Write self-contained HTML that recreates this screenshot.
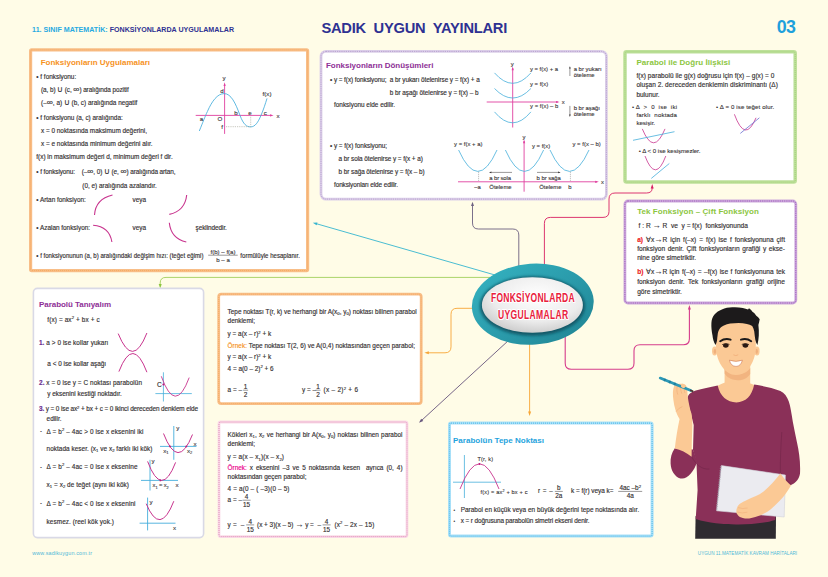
<!DOCTYPE html>
<html lang="tr"><head><meta charset="utf-8"><title>Fonksiyonlarda Uygulamalar</title>
<style>
html,body{margin:0;padding:0;background:#fffce7}
#page{position:relative;width:828px;height:577px;overflow:hidden;background:#fffce7}
svg{display:block}
text{white-space:pre}

</style></head>
<body>
<div id="page">
<svg width="828" height="577" viewBox="0 0 828 577">
<g id="shapes-back">
<defs>
<linearGradient id="gT" x1="0" y1="0" x2="1" y2="1"><stop offset="0" stop-color="#35b4c2"/><stop offset=".55" stop-color="#2a9aaa"/><stop offset="1" stop-color="#1f8291"/></linearGradient>
<radialGradient id="gI" cx=".55" cy=".35" r=".8"><stop offset="0" stop-color="#ffffff"/><stop offset=".55" stop-color="#ececec"/><stop offset="1" stop-color="#b9b9b9"/></radialGradient>
<filter id="bl" x="-20%" y="-20%" width="140%" height="140%"><feGaussianBlur stdDeviation="1.6"/></filter>
</defs>
<path d="M472.5 205.5V223Q472.5 229 478.5 229H512.8Q518.8 229 518.8 235V266" fill="none" stroke="#6c6080" stroke-width="0.9"/>
<path d="M0 0L-4.4 -1.5V1.5z" fill="#6c6080" transform="translate(472.5 201.7) rotate(270)"/>
<path d="M544.4 266V223.4Q544.4 217.4 550.4 217.4H603Q609 217.4 609 211.4V199Q609 193 615 193H646.5Q652.2 193 652.2 188" fill="none" stroke="#d81f63" stroke-width="0.9"/>
<path d="M0 0L-4.4 -1.5V1.5z" fill="#d81f63" transform="translate(652.2 184) rotate(270)"/>
<path d="M495 275L316 223.6" fill="none" stroke="#35b5cf" stroke-width="0.9"/>
<path d="M0 0L-4.4 -1.5V1.5z" fill="#35b5cf" transform="translate(312.8 222.7) rotate(196.3)"/>
<path d="M490 277.4H166Q160.2 277.4 160.2 283V285" fill="none" stroke="#8dc63f" stroke-width="0.75"/>
<path d="M0 0L-4.4 -1.5V1.5z" fill="#8dc63f" transform="translate(160.2 288.4) rotate(90)"/>
<path d="M476 308.3H457Q451 308.3 451 314.3V346.8Q451 352.8 445 352.8H428" fill="none" stroke="#f7a535" stroke-width="0.9"/>
<path d="M0 0L-4.4 -1.5V1.5z" fill="#f7a535" transform="translate(424.4 352.8) rotate(180)"/>
<path d="M509 340L421.5 420.5" fill="none" stroke="#66557c" stroke-width="0.9"/>
<path d="M0 0L-4.4 -1.5V1.5z" fill="#66557c" transform="translate(419 422.8) rotate(137.4)"/>
<path d="M529.6 342V412" fill="none" stroke="#f7a535" stroke-width="0.9"/>
<path d="M0 0L-4.4 -1.5V1.5z" fill="#f7a535" transform="translate(529.6 416) rotate(90)"/>
<path d="M565.2 336V363.3Q565.2 369.3 571.2 369.3H628Q634 369.3 634 363.3V350.8Q634 344.8 640 344.8H683.4Q689.4 344.8 689.4 338.8V309" fill="none" stroke="#d63c8c" stroke-width="1.1"/>
<path d="M0 0L-4.4 -1.5V1.5z" fill="#d63c8c" transform="translate(689.4 305) rotate(270)"/>
<rect x="30.6" y="49.9" width="277.0" height="220.7" rx="1" fill="#fff" stroke="#f8be88" stroke-width="3.2"/>
<rect x="30.6" y="49.9" width="277.0" height="220.7" rx="1" fill="none" stroke="#f5a85e" stroke-width="1" stroke-dasharray="1 1"/>
<rect x="321.0" y="51.4" width="285.4" height="147.7" rx="5" fill="#fff" stroke="#dccfe9" stroke-width="2.8"/>
<rect x="321.0" y="51.4" width="285.4" height="147.7" rx="5" fill="none" stroke="#b49dcc" stroke-width="0.9" stroke-dasharray="1.2 1"/>
<rect x="625.0" y="51.8" width="170.2" height="130.3" rx="1.5" fill="#fff" stroke="#bde09a" stroke-width="3.5"/>
<rect x="625.0" y="51.8" width="170.2" height="130.3" rx="1.5" fill="none" stroke="#a4d078" stroke-width="1" stroke-dasharray="1 1"/>
<rect x="624.9" y="201.0" width="170.9" height="102.0" rx="3" fill="#fff" stroke="#cdaadc" stroke-width="2.8"/>
<rect x="624.9" y="201.0" width="170.9" height="102.0" rx="3" fill="none" stroke="#a05fbb" stroke-width="1" stroke-dasharray="1.2 1"/>
<rect x="33.4" y="288.4" width="170.2" height="249.2" rx="4" fill="#fff" stroke="#d9d9e6" stroke-width="1.6"/>
<rect x="218.7" y="294.2" width="202.5" height="109.4" rx="2.5" fill="#fff" stroke="#f8be88" stroke-width="2.8"/>
<rect x="218.7" y="294.2" width="202.5" height="109.4" rx="2.5" fill="none" stroke="#f5a85e" stroke-width="0.9" stroke-dasharray="1 1"/>
<rect x="219.0" y="422.0" width="188.0" height="114.6" rx="1.5" fill="#fff" stroke="#fadbe8" stroke-width="2.8"/>
<rect x="219.0" y="422.0" width="188.0" height="114.6" rx="1.5" fill="none" stroke="#d878ab" stroke-width="0.8" stroke-dasharray="1 1"/>
<rect x="449.5" y="423.1" width="202.6" height="113.0" rx="1.5" fill="#fff" stroke="#a9e0f8" stroke-width="3"/>
<rect x="449.5" y="423.1" width="202.6" height="113.0" rx="1.5" fill="none" stroke="#5dbfe9" stroke-width="1.1" stroke-dasharray="1 1"/>
<ellipse cx="532.8" cy="304.2" rx="61" ry="40.5" fill="url(#gT)" transform="rotate(-4 532.8 304.2)"/>
<ellipse cx="532.4" cy="306" rx="52.5" ry="29.8" fill="#0e4a58" opacity=".8" filter="url(#bl)"/>
<ellipse cx="532.4" cy="305" rx="50.5" ry="27.8" fill="url(#gI)"/>
</g>
<g id="texts" font-family="'Liberation Sans', sans-serif" font-size="6.4" color="#343031" fill="currentColor" stroke="currentColor" stroke-width="0.15" xml:space="preserve">
<text x="32.1" y="32.1" font-size="7.1" color="#2e3192" font-weight="bold" stroke-width="0" textLength="201.9"><tspan color="#27aae1">11. SINIF MATEMATİK:</tspan> FONKSİYONLARDA UYGULAMALAR</text>
<text x="321.4" y="33.2" font-size="14.7" color="#2e3192" font-weight="bold" stroke-width="0" textLength="185.9">SADIK  UYGUN  YAYINLARI</text>
<text x="776.7" y="32.9" font-size="17.8" color="#1ea0dc" font-weight="bold" stroke-width="0" textLength="19.2">03</text>
<text x="32.2" y="554.7" font-size="5.4" color="#4fb8d8" textLength="59.8" stroke-width="0">www.sadikuygun.com.tr</text>
<text x="697.8" y="555.3" font-size="4.6" color="#4fb8d8" textLength="99.3" stroke-width="0">UYGUN 11.MATEMATİK KAVRAM HARİTALARI</text>
<text x="40.7" y="64.8" font-size="8" color="#f6921e" font-weight="bold" stroke-width="0" >Fonksiyonların Uygulamaları</text>
<text x="36.3" y="79.0" >• f fonksiyonu:</text>
<text x="41.0" y="92.0" textLength="87.7">(a, b) <tspan font-size="7.6">∪</tspan> (c, <tspan font-size="8.6">∞</tspan>) aralığında pozitif</text>
<text x="41.0" y="104.7" >(–<tspan font-size="8.6">∞</tspan>, a) <tspan font-size="7.6">∪</tspan> (b, c) aralığında negatif</text>
<text x="36.3" y="119.6" >• f fonksiyonu (a, c) aralığında:</text>
<text x="41.0" y="133.0" >x = 0 noktasında maksimum değerini,</text>
<text x="41.0" y="146.4" textLength="111.6">x = e noktasında minimum değerini alır.</text>
<text x="36.3" y="158.9" >f(x) in maksimum değeri d, minimum değeri f dir.</text>
<text x="36.3" y="174.1" textLength="139.2">• f fonksiyonu:    (–<tspan font-size="8.6">∞</tspan>, 0) <tspan font-size="7.6">∪</tspan> (e, <tspan font-size="8.6">∞</tspan>) aralığında artan,</text>
<text x="82.3" y="187.5" >(0, e) aralığında azalandır.</text>
<text x="36.3" y="202.0" >• Artan fonksiyon:</text>
<text x="132.6" y="202.4" >veya</text>
<text x="36.3" y="229.6" >• Azalan fonksiyon:</text>
<text x="132.6" y="229.9" >veya</text>
<text x="195.6" y="229.8" textLength="31.3">şeklindedir.</text>
<text transform="translate(36.3 258.2) scale(0.95 1)" textLength="176.0">• f fonksiyonunun (a, b) aralığındaki değişim hızı: (teğet eğimi)</text>
<text x="223.0" y="254.2" font-size="6.1" stroke-width=".1" text-anchor="middle" >f(b) – f(a)</text>
<text x="223.0" y="261.7" font-size="6.1" stroke-width=".1" text-anchor="middle" >b – a</text>
<text transform="translate(240.3 258.2) scale(0.95 1)" textLength="62.8">formülüyle hesaplanır.</text>
<text x="326.0" y="67.8" font-size="8" color="#8e2f96" font-weight="bold" stroke-width="0" textLength="107.4">Fonksiyonların Dönüşümleri</text>
<text x="330.0" y="81.6" textLength="149.7">• y = f(x) fonksiyonu;  a br yukarı ötelenirse y = f(x) + a</text>
<text x="389.7" y="94.8" textLength="88.8">b br aşağı ötelenirse y = f(x) – b</text>
<text x="334.0" y="107.4" >fonksiyonu elde edilir.</text>
<text x="330.0" y="148.4" textLength="57.1">• y = f(x) fonksiyonu;</text>
<text x="338.6" y="160.9" textLength="84.2">a br sola ötelenirse y = f(x + a)</text>
<text x="338.6" y="174.0" textLength="86.0">b br sağa ötelenirse y = f(x – b)</text>
<text x="334.0" y="187.1" textLength="64.0">fonksiyonları elde edilir.</text>
<text x="510.8" y="65.7" font-size="5.9" stroke-width=".1" >y</text>
<text x="561.8" y="104.2" font-size="5.9" stroke-width=".1" >x</text>
<text x="530.0" y="71.2" font-size="5.9" stroke-width=".1" textLength="28.0">y = f(x) + a</text>
<text x="530.0" y="85.5" font-size="5.9" stroke-width=".1" >y = f(x)</text>
<text x="530.0" y="108.1" font-size="5.9" stroke-width=".1" textLength="28.3">y = f(x) – b</text>
<text x="573.7" y="71.2" font-size="5.9" stroke-width=".1" >a br yukarı</text>
<text x="573.7" y="77.4" font-size="5.9" stroke-width=".1" >öteleme</text>
<text x="573.7" y="109.9" font-size="5.9" stroke-width=".1" >b br aşağı</text>
<text x="573.7" y="115.6" font-size="5.9" stroke-width=".1" >öteleme</text>
<text x="522.4" y="139.2" font-size="5.9" stroke-width=".1" >y</text>
<text x="601.0" y="184.0" font-size="5.9" stroke-width=".1" >x</text>
<text x="454.0" y="146.2" font-size="5.9" stroke-width=".1" textLength="28.5">y = f(x + a)</text>
<text x="532.0" y="147.6" font-size="5.9" stroke-width=".1" >y = f(x)</text>
<text x="572.4" y="146.2" font-size="5.9" stroke-width=".1" textLength="28.4">y = f(x – b)</text>
<text x="489.3" y="179.6" font-size="5.9" stroke-width=".1" textLength="21.7">a br sola</text>
<text x="536.6" y="179.6" font-size="5.9" stroke-width=".1" textLength="24.2">b br sağa</text>
<text x="474.2" y="189.0" font-size="5.9" stroke-width=".1" >–a</text>
<text x="489.3" y="189.0" font-size="5.9" stroke-width=".1" >Öteleme</text>
<text x="539.2" y="189.0" font-size="5.9" stroke-width=".1" >Öteleme</text>
<text x="568.3" y="189.0" font-size="5.9" stroke-width=".1" >b</text>
<text x="636.4" y="64.5" font-size="8" color="#8cc63f" font-weight="bold" stroke-width="0" textLength="93.9">Parabol ile Doğru İlişkisi</text>
<text x="636.4" y="77.6" font-size="6.5" textLength="137.9">f(x) parabolü ile g(x) doğrusu için f(x) – g(x) = 0</text>
<text x="636.4" y="87.3" font-size="6.5" textLength="141.4">oluşan 2. dereceden denklemin diskriminantı (Δ)</text>
<text x="636.4" y="96.6" font-size="6.5" >bulunur.</text>
<text x="631.9" y="109.0" font-size="6.1" stroke-width=".1" textLength="45.1">• Δ  >  0  ise  iki</text>
<text x="636.4" y="116.6" font-size="6.1" stroke-width=".1" textLength="40.6">farklı  noktada</text>
<text x="636.4" y="124.6" font-size="6.1" stroke-width=".1" >kesişir.</text>
<text x="716.0" y="109.0" font-size="6.1" stroke-width=".1" textLength="58.3">• Δ = 0 ise teğet olur.</text>
<text x="638.8" y="153.0" font-size="6.1" stroke-width=".1" textLength="61.7">• Δ < 0 ise kesişmezler.</text>
<text x="637.2" y="214.3" font-size="8" color="#8cc63f" font-weight="bold" stroke-width="0" textLength="121.7">Tek Fonksiyon – Çift Fonksiyon</text>
<text x="638.6" y="228.2" font-size="6.6" textLength="109.3">f : R <tspan font-size="8.2">→</tspan> R  ve  y = f(x)  fonksiyonunda</text>
<text x="637.2" y="242.0" font-size="6.6" word-spacing="1.13"><tspan color="#ed1c24"><tspan font-weight="bold">a)</tspan></tspan> ∀x<tspan font-size="8.2">→</tspan>R için f(–x) = f(x) ise f fonksiyonuna çift</text>
<text x="637.2" y="251.1" font-size="6.6" word-spacing="0.81">fonksiyon denir. Çift fonksiyonların grafiği y ekse-</text>
<text x="637.2" y="260.4" font-size="6.6" >nine göre simetriktir.</text>
<text x="637.2" y="274.4" font-size="6.6" word-spacing="0.64"><tspan color="#ed1c24"><tspan font-weight="bold">b)</tspan></tspan> ∀x<tspan font-size="8.2">→</tspan>R için f(–x) = –f(x) ise f fonksiyonuna tek</text>
<text x="637.2" y="283.8" font-size="6.6" word-spacing="1.65">fonksiyon denir. Tek fonksiyonların grafiği orijine</text>
<text x="637.2" y="293.7" font-size="6.6" >göre simetriktir.</text>
<text x="39.0" y="307.3" font-size="8" color="#8e2f96" font-weight="bold" stroke-width="0" textLength="72.0">Parabolü Tanıyalım</text>
<text x="47.3" y="321.6" textLength="52.3">f(x) = ax<tspan dy="-2.88" font-size="4.22">2</tspan><tspan dy="2.88"> </tspan>+ bx + c</text>
<text x="39.0" y="344.7" textLength="69.4"><tspan color="#6a2c8f"><tspan font-weight="bold">1.</tspan></tspan> a > 0 ise kollar yukarı</text>
<text x="47.3" y="365.9" >a &lt; 0 ise kollar aşağı</text>
<text x="39.0" y="385.4" textLength="103.0"><tspan color="#6a2c8f"><tspan font-weight="bold">2.</tspan></tspan> x = 0 ise y = C noktası parabolün</text>
<text x="47.3" y="396.4" >y eksenini kestiği noktadır.</text>
<text x="39.0" y="411.4" textLength="159.0"><tspan color="#6a2c8f"><tspan font-weight="bold">3.</tspan></tspan> y = 0 ise ax<tspan dy="-2.88" font-size="4.22">2</tspan><tspan dy="2.88"> </tspan>+ bx + c = 0 ikinci dereceden denklem elde</text>
<text x="46.6" y="420.6" >edilir.</text>
<text x="40.2" y="433.1" font-size="4.4" stroke-width=".1" >•</text>
<text x="46.6" y="433.7" textLength="96.9">Δ = b<tspan dy="-2.88" font-size="4.22">2</tspan><tspan dy="2.88"> </tspan>– 4ac > 0 ise x eksenini iki</text>
<text x="46.6" y="450.9" textLength="105.9">noktada keser. (x<tspan dy="1.41" font-size="4.22">1</tspan><tspan dy="-1.41"> </tspan>ve x<tspan dy="1.41" font-size="4.22">2</tspan><tspan dy="-1.41"> </tspan>farklı iki kök)</text>
<text x="40.2" y="468.7" font-size="4.4" stroke-width=".1" >•</text>
<text x="46.6" y="469.3" textLength="90.9">Δ = b<tspan dy="-2.88" font-size="4.22">2</tspan><tspan dy="2.88"> </tspan>– 4ac = 0 ise x eksenine</text>
<text x="46.6" y="486.8" textLength="82.3">x<tspan dy="1.41" font-size="4.22">1</tspan><tspan dy="-1.41"> </tspan>= x<tspan dy="1.41" font-size="4.22">2</tspan><tspan dy="-1.41"> </tspan>de teğet (aynı iki kök)</text>
<text x="40.2" y="505.2" font-size="4.4" stroke-width=".1" >•</text>
<text x="46.6" y="505.8" textLength="88.9">Δ = b<tspan dy="-2.88" font-size="4.22">2</tspan><tspan dy="2.88"> </tspan>– 4ac &lt; 0 ise x eksenini</text>
<text x="46.6" y="523.6" textLength="67.4">kesmez. (reel kök yok.)</text>
<text x="157.0" y="387.2" font-size="6.6" >C</text>
<text x="176.2" y="429.5" font-size="6.2" stroke-width=".1" >y</text>
<text x="193.4" y="445.5" font-size="6.2" stroke-width=".1" >x</text>
<text x="163.2" y="452.5" font-size="6.2" stroke-width=".1" >x<tspan dy="1.36" font-size="4.09">1</tspan></text>
<text x="187.0" y="452.5" font-size="6.2" stroke-width=".1" >x<tspan dy="1.36" font-size="4.09">2</tspan></text>
<text x="151.6" y="463.1" font-size="6.2" stroke-width=".1" >y</text>
<text x="175.4" y="486.7" font-size="6.2" stroke-width=".1" >x</text>
<text x="152.6" y="487.4" font-size="5.8" stroke-width=".1" textLength="16.0">x<tspan dy="1.28" font-size="3.83">1</tspan><tspan dy="-1.28"> </tspan>= x<tspan dy="1.28" font-size="3.83">2</tspan></text>
<text x="149.4" y="503.5" font-size="6.2" stroke-width=".1" >y</text>
<text x="173.0" y="529.9" font-size="6.2" stroke-width=".1" >x</text>
<text x="227.6" y="313.8" word-spacing="0.01">Tepe noktası T(r, k) ve herhangi bir A(x<tspan dy="1.41" font-size="4.22">0</tspan><tspan dy="-1.41">,</tspan> y<tspan dy="1.41" font-size="4.22">0</tspan><tspan dy="-1.41">)</tspan> noktası bilinen parabol</text>
<text x="227.6" y="323.2" >denklemi;</text>
<text x="227.6" y="336.4" >y = a(x – r)<tspan dy="-2.88" font-size="4.22">2</tspan><tspan dy="2.88"> </tspan>+ k</text>
<text x="227.6" y="348.4" textLength="187.4"><tspan color="#f6921e">Örnek:</tspan> Tepe noktası T(2, 6) ve A(0,4) noktasından geçen parabol;</text>
<text x="227.6" y="359.4" >y = a(x – r)<tspan dy="-2.88" font-size="4.22">2</tspan><tspan dy="2.88"> </tspan>+ k</text>
<text x="227.6" y="371.3" >4 = a(0 – 2)<tspan dy="-2.88" font-size="4.22">2</tspan><tspan dy="2.88"> </tspan>+ 6</text>
<text x="227.6" y="392.4" >a = –</text>
<text x="245.6" y="389.2" text-anchor="middle" >1</text>
<text x="245.6" y="396.9" text-anchor="middle" >2</text>
<text x="302.0" y="392.4" >y = –</text>
<text x="318.0" y="389.2" text-anchor="middle" >1</text>
<text x="318.0" y="396.9" text-anchor="middle" >2</text>
<text x="323.5" y="392.4" textLength="34.5">(x – 2)<tspan dy="-2.88" font-size="4.22">2</tspan><tspan dy="2.88"> </tspan>+ 6</text>
<text x="227.6" y="436.9" word-spacing="0.45">Kökleri x<tspan dy="1.41" font-size="4.22">1</tspan><tspan dy="-1.41">,</tspan> x<tspan dy="1.41" font-size="4.22">2</tspan><tspan dy="-1.41"> </tspan>ve herhangi bir A(x<tspan dy="1.41" font-size="4.22">0</tspan><tspan dy="-1.41">,</tspan> y<tspan dy="1.41" font-size="4.22">0</tspan><tspan dy="-1.41">)</tspan> noktası bilinen parabol</text>
<text x="227.6" y="445.6" >denklemi;</text>
<text x="227.6" y="459.4" textLength="56.4">y = a(x – x<tspan dy="1.41" font-size="4.22">1</tspan><tspan dy="-1.41">)</tspan>(x – x<tspan dy="1.41" font-size="4.22">2</tspan><tspan dy="-1.41">)</tspan></text>
<text x="227.6" y="470.4" word-spacing="1.21"><tspan color="#ec008c">Örnek:</tspan> x eksenini –3 ve 5 noktasında kesen  ayrıca (0, 4)</text>
<text x="227.6" y="479.3" >noktasından geçen parabol;</text>
<text x="227.6" y="491.4" textLength="61.9">4 = a(0 – ( –3)(0 – 5)</text>
<text x="227.6" y="502.0" >a = –</text>
<text x="246.6" y="499.2" text-anchor="middle" >4</text>
<text x="246.6" y="506.9" text-anchor="middle" >15</text>
<text x="227.6" y="527.0" textLength="16.8">y =  –</text>
<text x="250.2" y="523.9" text-anchor="middle" >4</text>
<text x="250.2" y="531.6" text-anchor="middle" >15</text>
<text x="257.0" y="527.0" >(x + 3)(x – 5) <tspan font-size="8.2">→</tspan> y =  –</text>
<text x="326.6" y="523.9" text-anchor="middle" >4</text>
<text x="326.6" y="531.6" text-anchor="middle" >15</text>
<text x="334.4" y="527.0" textLength="39.9">(x<tspan dy="-2.88" font-size="4.22">2</tspan><tspan dy="2.88"> </tspan>– 2x – 15)</text>
<text x="453.0" y="442.7" font-size="8" color="#1fa3dd" font-weight="bold" stroke-width="0" textLength="91.0">Parabolün Tepe Noktası</text>
<text x="477.5" y="461.2" font-size="5.6" stroke-width=".1" textLength="15.5">T(r, k)</text>
<text x="480.6" y="494.2" font-size="5.6" stroke-width=".1" textLength="46.9">f(x) = ax<tspan dy="-2.52" font-size="3.7">2</tspan><tspan dy="2.52"> </tspan>+ bx + c</text>
<text x="538.0" y="493.4" textLength="14.7">r = –</text>
<text x="558.8" y="490.4" text-anchor="middle" >b</text>
<text x="558.8" y="498.1" text-anchor="middle" >2a</text>
<text x="571.0" y="493.4" textLength="42.4">k = f(r) veya k=</text>
<text x="630.2" y="490.4" text-anchor="middle" >4ac –b<tspan dy="-2.88" font-size="4.22">2</tspan></text>
<text x="630.2" y="498.1" text-anchor="middle" >4a</text>
<text x="453.4" y="511.7" font-size="4.6" stroke-width=".1" >•</text>
<text x="460.7" y="512.2" textLength="178.5">Parabol en küçük veya en büyük değerini tepe noktasında alır.</text>
<text x="453.4" y="522.5" font-size="4.6" stroke-width=".1" >•</text>
<text x="460.7" y="523.0" textLength="128.8">x = r doğrusuna parabolün simetri ekseni denir.</text>
<text transform="translate(491.0 302.3) scale(0.66 1)" font-size="13" color="#e9203c" font-weight="bold" textLength="126.8" stroke="#fff" stroke-width="2.2" stroke-linejoin="round" paint-order="stroke">FONKSİYONLARDA</text>
<text transform="translate(497.9 319.1) scale(0.66 1)" font-size="13" color="#e9203c" font-weight="bold" textLength="106.7" stroke="#fff" stroke-width="2.2" stroke-linejoin="round" paint-order="stroke">UYGULAMALAR</text>
<text x="222.6" y="80.4" font-size="6.2" stroke-width=".1" >y</text>
<text x="276.6" y="117.7" font-size="6.2" stroke-width=".1" >x</text>
<text x="220.3" y="93.3" font-size="6.2" stroke-width=".1" >d</text>
<text x="262.6" y="95.9" font-size="6.2" stroke-width=".1" >f(x)</text>
<text x="234.2" y="114.6" font-size="6.2" stroke-width=".1" >b</text>
<text x="248.2" y="114.6" font-size="6.2" stroke-width=".1" >e</text>
<text x="263.8" y="114.6" font-size="6.2" stroke-width=".1" >c</text>
<text x="199.8" y="120.5" font-size="6.2" stroke-width=".1" >a</text>
<text x="217.6" y="120.9" font-size="6.2" stroke-width=".1" >O</text>
<text x="221.2" y="129.0" font-size="6.2" stroke-width=".1" >f</text>
</g>
<g id="shapes-front" fill="none">
<path d="M208.2 255.2h29.5" stroke="#343031" stroke-width=".5"/>
<path d="M512.7 127.5V68" stroke="#e0409f" stroke-width="0.9" />
<path d="M512.7 66.6l-1.1 3.6h2.2z" fill="#e0409f"/>
<path d="M486.7 102H558" stroke="#e0409f" stroke-width="0.9" />
<path d="M559.6 102l-3.6 -1.1v2.2z" fill="#e0409f"/>
<path d="M494.5 72.9Q512.7 93.7 530.9 72.9" stroke="#45aedb" stroke-width="0.8" />
<path d="M494.5 88.5Q512.7 107.5 530.9 88.5" stroke="#45aedb" stroke-width="0.8" />
<path d="M494.5 111.9Q512.7 133.7 530.9 111.9" stroke="#45aedb" stroke-width="0.8" />
<path d="M569.9 76V67.5" stroke="#343031" stroke-width="0.5" />
<path d="M569.9 66.2l-0.8 2.4h1.6z" fill="#343031"/>
<path d="M569.9 105.9V115.5" stroke="#343031" stroke-width="0.5" />
<path d="M569.9 117l-0.8 -2.4h1.6z" fill="#343031"/>
<path d="M524.1 191.7V141" stroke="#e0409f" stroke-width="0.9" />
<path d="M524.1 139.6l-1.1 3.6h2.2z" fill="#e0409f"/>
<path d="M458 181.8H597" stroke="#e0409f" stroke-width="0.9" />
<path d="M598.8 181.8l-3.6 -1.1v2.2z" fill="#e0409f"/>
<path d="M458.6 150.0Q477.8 192.8 497.0 150.0" stroke="#45aedb" stroke-width="0.8" />
<path d="M505.4 150.0Q524.5 192.8 543.6 150.0" stroke="#45aedb" stroke-width="0.8" />
<path d="M550.0 150.0Q569.5 192.8 589.0 150.0" stroke="#45aedb" stroke-width="0.8" />
<path d="M478.6 171.8V181.8M570.4 171.8V181.8" stroke="#666" stroke-width="0.5" stroke-dasharray="1 1"/>
<path d="M512 172.4H490.5" stroke="#343031" stroke-width="0.5" />
<path d="M489 172.4l2.4 -0.8v1.6z" fill="#343031"/>
<path d="M537 172.4H559" stroke="#343031" stroke-width="0.5" />
<path d="M560.6 172.4l-2.4 -0.8v1.6z" fill="#343031"/>
<path d="M642.3 128.9Q653.6 156.7 665.0 128.9" stroke="#c8348e" stroke-width="0.8" />
<path d="M633 140.3L674.5 131.7" stroke="#45aedb" stroke-width="0.8" />
<path d="M734.4 114.3Q745.2 143.9 756.0 117.8" stroke="#c8348e" stroke-width="0.8" />
<path d="M740.3 133.4L759.4 117.8" stroke="#6a6fd0" stroke-width="0.8" />
<path d="M645.0 156.0Q655.4 183.6 665.8 156.0" stroke="#c8348e" stroke-width="0.8" />
<path d="M651.3 178.4L669.3 163.5" stroke="#45aedb" stroke-width="0.8" />
<path d="M118.2 333.6Q132.6 369.5 146.9 333.0" stroke="#c8348e" stroke-width="1.0" />
<path d="M118.9 371.6Q132.9 335.1 146.9 372.2" stroke="#c8348e" stroke-width="1.0" />
<path d="M163.4 372.3V401.5M155.4 393.6H191.8" stroke="#45aedb" stroke-width="0.8" />
<path d="M161.3 376.3Q175.2 415.4 189.2 377.6" stroke="#c8348e" stroke-width="0.9" />
<circle cx="163.4" cy="384.4" r="1" fill="#c2187a"/>
<path d="M173.8 426V459.8M160 446.4H196.4" stroke="#45aedb" stroke-width="0.9" />
<path d="M163.5 433.5Q178.0 471.2 192.5 434.5" stroke="#c8348e" stroke-width="1.0" />
<circle cx="170" cy="446.4" r="0.9" fill="#c2187a"/><circle cx="186.3" cy="446.4" r="0.9" fill="#c2187a"/>
<path d="M150 459.8V490.5M141 480.4H178" stroke="#45aedb" stroke-width="0.9" />
<path d="M147.6 461.4Q161.6 498.9 175.6 462.4" stroke="#c8348e" stroke-width="1.0" />
<circle cx="160.4" cy="480.4" r="0.9" fill="#c2187a"/>
<path d="M147.6 497.6V530.4M139.6 523.2H175.5" stroke="#45aedb" stroke-width="0.9" />
<path d="M146.2 503.7Q160.0 536.8 173.8 501.2" stroke="#c8348e" stroke-width="1.0" />
<path d="M243.1 390.2h5" stroke="#343031" stroke-width=".5"/>
<path d="M315.5 390.2h5" stroke="#343031" stroke-width=".5"/>
<path d="M242.6 500.2h8" stroke="#343031" stroke-width=".5"/>
<path d="M246.2 524.9h8" stroke="#343031" stroke-width=".5"/>
<path d="M322.6 524.9h8" stroke="#343031" stroke-width=".5"/>
<path d="M464.4 455V498M453 482.2H501" stroke="#45aedb" stroke-width="0.8" />
<path d="M460.0 489.0Q479.5 438.6 499.0 489.0" stroke="#c8348e" stroke-width="0.9" />
<circle cx="479.4" cy="464" r="0.9" fill="#c2187a"/>
<path d="M554.8 491.4h8" stroke="#343031" stroke-width=".5"/>
<path d="M618.2 491.4h24" stroke="#343031" stroke-width=".5"/>
<path d="M224.6 133.9V84" stroke="#e0409f" stroke-width="0.9" />
<path d="M224.6 82.3l-1.1 3.6h2.2z" fill="#e0409f"/>
<path d="M195.7 115.4H271.6" stroke="#e0409f" stroke-width="0.9" />
<path d="M273.6 115.4l-3.6 -1.1v2.2z" fill="#e0409f"/>
<path d="M199.3 131C203 122 205 116.5 207.4 111.5C212 101 217.5 93.6 224.2 93.6C231 93.6 235.5 103 240 115.4C243.5 124.5 246.5 126.9 250.7 126.9C255 126.9 258 122.5 261 115.4C263.5 109.5 265.3 104 267 98.4" stroke="#45aedb" stroke-width="0.85" />
<path d="M226 126.7H250.7V116" stroke="#998" stroke-width="0.55" stroke-dasharray="1.2 1"/>
<path d="M94.5 215Q95.5 199 112.5 195" stroke="#c8348e" stroke-width="1.1" />
<path d="M169.3 214.4Q185 211 186.7 195" stroke="#c8348e" stroke-width="1.1" />
<path d="M93.1 225.2Q109.5 226.5 111.9 242" stroke="#c8348e" stroke-width="1.1" />
<path d="M169.3 222.7Q171 238.5 186.3 242" stroke="#c8348e" stroke-width="1.1" />
<path d="M695.6 516L695.2 538.8H775.8L776 516z" fill="#2f2b30"/>
<path d="M716.5 386.5C722 383 728 381 736 381C744 381 750 383 755.5 385.5V404H716.5z" fill="#fbc995"/>
<path d="M717.7 385.6C710 387.2 702 388.8 695.8 390.5C692 391.8 689.4 393.6 688.3 395.4C687.2 397.4 687.3 399.6 687.6 401.6L689.5 408.7L693.7 425L693 450L696.4 461L697.6 490L695.7 519C709 523.4 726 524.6 738.6 524.4C752 524.4 766 523 775.2 520L779.6 488L792 484.4C796 482.4 799.4 478.4 800 473.4C800.6 462 799 452 797.1 443.1C795.6 436 794.2 429 792.9 422.2C791.6 414 790.4 406 788.7 401.3C787 396.4 784.4 392.6 780.4 390.9C772 387.6 762 385.8 754.2 384.6C752 396 745.6 402.4 736.4 402.4C727 402.4 720 396.4 717.7 385.6z" fill="#8a3058"/>
<path d="M674.8 448.2C671.6 452.4 670.2 458 670.6 463.4C671 470.6 674.6 476.6 680.4 478.4C687 480 693.4 472.6 697.4 461.6L693 449.6z" fill="#8a3058"/>
<path d="M691.6 456.6C693.6 460.6 696 463.2 698.6 465.6C702 468.4 706 469.4 709.4 469M781.8 432C780.8 446 780.2 460 780.4 472.6C784 477 787.6 481.6 791.4 484.6" stroke="#76264a" stroke-width=".7" fill="none"/>
<path d="M724.6 362V385C726 396.4 730.6 401.8 736.6 401.8C743 401.8 748.2 396.6 750.2 385V362z" fill="#fbc995"/>
<path d="M724.6 368C729 376 744.6 377 750.2 368V374C744.6 383 729.6 382 724.6 373.6z" fill="#f0b07c" opacity=".85"/>
<ellipse cx="714.6" cy="351" rx="2.6" ry="4.6" fill="#fbc995"/><ellipse cx="757" cy="351" rx="2.6" ry="4.6" fill="#fbc995"/>
<ellipse cx="714.9" cy="351.3" rx="1.2" ry="2.6" fill="#f0b07c"/><ellipse cx="756.7" cy="351.3" rx="1.2" ry="2.6" fill="#f0b07c"/>
<path d="M716 322V348C716.6 362 725 375 735.9 375C747 375 755.2 362 755.8 348V322z" fill="#fbc995"/>
<path d="M715.6 344.9C713.6 342 712.8 338.6 712.5 335.5C711.6 331 711.2 327 711.4 323C711.6 319.6 712.6 316.8 714.5 314.6C716.4 312.2 719 310.4 721.9 309.4C725 308 728.6 307.4 732.3 307.3C736 307 739.6 307.4 742.8 307.9C744.8 308.2 746.6 308.8 748 309.4L749 308.2C750.4 309 751.4 310.2 752.2 311.5C753.8 312.6 755.2 314 756.3 315.7C757.6 316.6 758.8 317.8 759.7 319.2C759.4 321.2 758.8 323.2 758.4 325C758.8 328.4 759 332 758.8 335.5C758.6 338.8 758.2 342 757.4 344.9C756.4 343.4 755.7 341.6 755.3 339.7C754.8 337 754.6 334 754.2 331.3C753.8 329.4 753.2 327.6 752.2 326.1C750.6 325 748.8 324.4 746.9 324C744.2 323.4 741.4 323 738.6 323C735.8 323 733 323.2 730.2 323.6C728 324 725.8 324.6 723.9 325.5C722 326.4 720.4 327.6 719.4 329.3C718.4 330.8 717.9 332.6 717.7 334.5C717.4 336.6 717.2 338.6 717 340.7C716.6 342.2 716.2 343.6 715.6 344.9z" fill="#1c1a1b"/>
<path d="M720.2 341.2Q725 337.8 730.6 339.6M741 339.6Q746.6 337.8 751.2 341.2" stroke="#1c1a1b" stroke-width="2" stroke-linecap="round" fill="none"/>
<ellipse cx="725.8" cy="345.6" rx="2.8" ry="2.1" fill="#2a1a14"/><ellipse cx="745.4" cy="345.6" rx="2.8" ry="2.1" fill="#2a1a14"/>
<path d="M722.2 344.6Q725.6 342.6 729.4 344.4M741.8 344.4Q745.6 342.6 749 344.6" stroke="#2a1a14" stroke-width=".8" fill="none"/>
<path d="M733.4 354.8Q735.8 356.4 738.2 354.8" stroke="#f0b07c" stroke-width=".9" fill="none"/>
<path d="M729.4 360.2Q736 362.6 742.4 360.2Q740.8 366.4 736 366.4Q731 366.4 729.4 360.2z" fill="#fff" stroke="#c9714f" stroke-width=".55"/>
<path d="M721.4 465.6L785.4 475L784.2 517L716.6 510.8z" fill="#ebebf0" stroke="#d2d2da" stroke-width=".6"/>
<path d="M720.8 466.5L716.6 510" stroke="#9c9ca8" stroke-width="1.5" stroke-dasharray=".7 1.1"/>
<path d="M674.8 448.4C676 438 677.6 428 679.6 419C677.6 416 676.4 413 675.5 410C674.4 406.6 673.8 403.4 673.4 400C673 397.4 672.8 394.6 672.9 392C673 389.8 673.4 388 674 386.5C675 385 676.4 384.2 678 384C679.6 383.6 681.4 383.6 683 383.8C684.8 384.2 686 385.2 686.5 386.5C687 388 687.2 389.6 687.3 391C687.5 393 687.6 395 687.8 397C688.2 399.8 688.6 402.4 689.2 405C689.6 408 690.6 411 691.6 414C692.2 417.6 692.4 421.4 692.4 425C692.2 430.6 692 436.4 691.8 442L691.6 456.8C686.6 452.6 680.6 449.6 674.8 448.4z" fill="#fbc995"/>
<path d="M677.2 386C676.6 389 676.8 392 677.8 394.6M680.8 385C680.4 388 680.8 391 681.8 393.6M684.2 386C683.8 388.4 684.2 391 685 393M676 411.6Q678.4 408 682.4 406.6" stroke="#f0b07c" stroke-width=".7" fill="none"/>
<path d="M660.2 378.1L690.8 390.5" stroke="#2b98b6" stroke-width="2.7" stroke-linecap="round"/>
<path d="M664 379.65l1.6 .65M669 381.7l1.6 .65M674 383.7l1.6 .65" stroke="#1d7f9e" stroke-width="2.7"/>
<path d="M690.8 390.5L692.6 391.2" stroke="#4a3a34" stroke-width="1.8" stroke-linecap="round"/>
<ellipse cx="683.2" cy="386" rx="2.3" ry="2" fill="#fbc995" transform="rotate(22 683.2 386)"/>
<path d="M780.4 473.4C775 480 769.6 486.4 763.6 491.6C758.4 495.6 752.4 497.4 746.9 500C741.6 502.4 737.8 504.6 737.2 507.6C735.8 510.4 736.2 513 737.4 514.6C738.8 516.8 740.8 517.8 742.8 518C747 519 751.4 518.4 755.3 517C760 515.6 764.4 513.8 767.8 511.6C772.6 508.2 776.6 504.2 780.4 500.1C784.6 495.6 788 490.6 791 485.4C787 482 783.6 477.8 780.4 473.4z" fill="#fbc995"/>
<path d="M738 507.6Q742.5 509.2 747.6 508M737.4 512Q742 513.8 747.4 512.2" stroke="#f0b07c" stroke-width=".6" fill="none"/>
</g>
</svg>
</div>
</body></html>
